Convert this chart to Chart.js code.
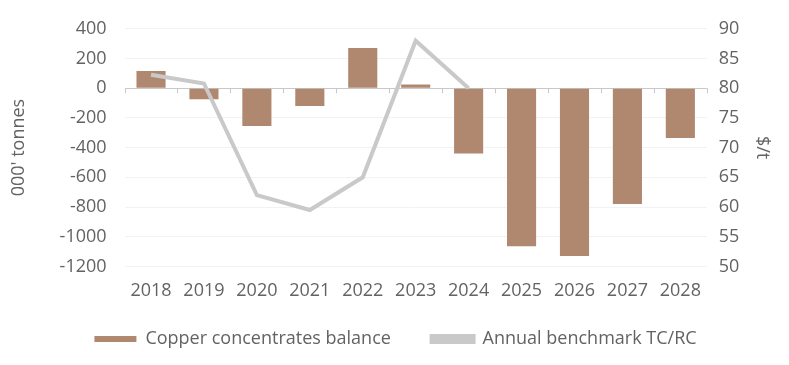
<!DOCTYPE html>
<html lang="en">
<head>
    <meta charset="UTF-8">
    <title>Copper concentrates balance</title>
    <style>
        body {
            margin: 0;
            padding: 0;
            background-color: #fff;
        }
        .container {
            width: 789px;
            height: 365px;
            position: relative;
        }
    </style>
    <script src="https://cdn.jsdelivr.net/npm/chart.js"></script>
</head>
<body>
    <div class="container">
        <canvas id="copperChart"></canvas>
    </div>

    <script>
        const years = ['2018', '2019', '2020', '2021', '2022', '2023', '2024', '2025', '2026', '2027', '2028'];
        const balance = [115, -75, -255, -120, 270, 25, -440, -1065, -1130, -780, -335];
        const tcrc = [82.25, 80.8, 62, 59.5, 65, 88, 80, null, null, null, null];

        const textColor = '#636363';
        const fontFamily = '"Open Sans", sans-serif';
        const fontSize = 18;

        // small tick marks along the zero line, at the category boundaries
        const zeroTicks = {
            id: 'zeroTicks',
            afterDatasetsDraw(chart) {
                const x = chart.scales.x;
                const y0 = chart.scales.y.getPixelForValue(0);
                const ctx = chart.ctx;
                ctx.save();
                ctx.strokeStyle = '#c8c8c8';
                ctx.lineWidth = 1;
                for (let i = 0; i <= years.length; i++) {
                    const px = Math.round(x.getPixelForValue(i - 0.5)) + 0.5;
                    ctx.beginPath();
                    ctx.moveTo(px, y0);
                    ctx.lineTo(px, y0 + 5);
                    ctx.stroke();
                }
                ctx.restore();
            }
        };

        const ctx = document.getElementById('copperChart').getContext('2d');
        new Chart(ctx, {
            data: {
                labels: years,
                datasets: [{
                    type: 'line',
                    label: 'Annual benchmark TC/RC',
                    data: tcrc,
                    yAxisID: 'y1',
                    borderColor: '#c9c9c9',
                    backgroundColor: '#c9c9c9',
                    borderWidth: 4,
                    pointRadius: 0,
                    tension: 0,
                    order: 0
                }, {
                    type: 'bar',
                    label: 'Copper concentrates balance',
                    data: balance,
                    yAxisID: 'y',
                    backgroundColor: '#b08870',
                    barPercentage: 0.55,
                    categoryPercentage: 1,
                    order: 1
                }]
            },
            options: {
                responsive: true,
                maintainAspectRatio: false,
                animation: false,
                layout: {
                    padding: { left: 8, right: 6, top: 22, bottom: 7 }
                },
                plugins: {
                    legend: {
                        position: 'bottom',
                        reverse: true,
                        labels: {
                            color: textColor,
                            font: { family: fontFamily, size: fontSize },
                            boxWidth: 42,
                            boxHeight: 6,
                            padding: 22,
                            // a little extra room after the first item
                            generateLabels(chart) {
                                const items = Chart.defaults.plugins.legend.labels.generateLabels(chart);
                                items.forEach(it => {
                                    if (it.datasetIndex === 1) it.text = it.text + '    ';
                                });
                                return items;
                            }
                        }
                    },
                    tooltip: { enabled: false }
                },
                scales: {
                    x: {
                        grid: { display: false },
                        border: { display: false },
                        ticks: {
                            color: textColor,
                            font: { family: fontFamily, size: fontSize },
                            padding: 6,
                            maxRotation: 0
                        }
                    },
                    y: {
                        position: 'left',
                        min: -1200,
                        max: 400,
                        ticks: {
                            stepSize: 200,
                            color: textColor,
                            font: { family: fontFamily, size: fontSize },
                            padding: 18,
                            callback: (v) => String(v)
                        },
                        grid: {
                            drawTicks: false,
                            color: (c) => c.tick && c.tick.value === 0 ? '#c8c8c8' : '#f2f2f2'
                        },
                        border: { display: false },
                        title: {
                            display: true,
                            text: "000' tonnes",
                            color: textColor,
                            font: { family: fontFamily, size: fontSize },
                            padding: { top: 0, bottom: 12 }
                        }
                    },
                    y1: {
                        position: 'right',
                        min: 50,
                        max: 90,
                        ticks: {
                            stepSize: 5,
                            color: textColor,
                            font: { family: fontFamily, size: fontSize },
                            padding: 12,
                            callback: (v) => String(v)
                        },
                        grid: { display: false, drawTicks: false },
                        border: { display: false },
                        title: {
                            display: true,
                            text: '$/t',
                            color: textColor,
                            font: { family: fontFamily, size: fontSize },
                            padding: { top: 10, bottom: 0 }
                        }
                    }
                }
            },
            plugins: [zeroTicks]
        });
    </script>
</body>
</html>
